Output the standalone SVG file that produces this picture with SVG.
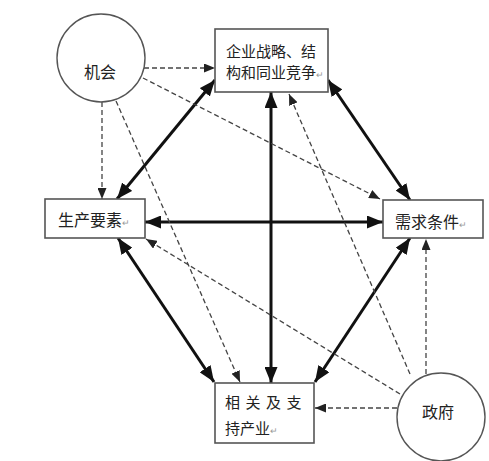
<svg xmlns="http://www.w3.org/2000/svg" width="489" height="461" viewBox="0 0 489 461">
<style>
.box{fill:#fff;stroke:#555;stroke-width:1.6}
.circ{fill:#fff;stroke:#555;stroke-width:1.4}
.t{font-family:"Noto Sans CJK SC","Noto Sans",sans-serif;fill:#222}
.pm{font-size:9px;fill:#999}
.thick{stroke:#111;stroke-width:3;fill:none;marker-start:url(#big);marker-end:url(#big)}
.dash{stroke:#444;stroke-width:1.3;stroke-dasharray:5 3;fill:none;marker-end:url(#small)}
</style>
<defs>
<marker id="big" viewBox="0 0 16 13" refX="16" refY="6.5" markerWidth="16" markerHeight="13" markerUnits="userSpaceOnUse" orient="auto-start-reverse"><path d="M0,0 L16,6.5 L0,13 z" fill="#111"/></marker>
<marker id="small" viewBox="0 0 11 9" refX="11" refY="4.5" markerWidth="11" markerHeight="9" markerUnits="userSpaceOnUse" orient="auto"><path d="M0,0 L11,4.5 L0,9 z" fill="#222"/></marker>
</defs>
<rect width="489" height="461" fill="#fff"/>
<g id="connectors">
<line class="thick" x1="117" y1="199" x2="215" y2="80"/>
<line class="thick" x1="328" y1="80" x2="410" y2="200"/>
<line class="thick" x1="271" y1="92" x2="271" y2="383"/>
<line class="thick" x1="145" y1="222" x2="383" y2="222"/>
<line class="thick" x1="118" y1="238" x2="214" y2="382"/>
<line class="thick" x1="410" y1="238" x2="315" y2="382"/>
<line class="dash" x1="144" y1="68" x2="215" y2="68"/>
<line class="dash" x1="102" y1="102" x2="102" y2="199"/>
<line class="dash" x1="143" y1="78" x2="380" y2="199"/>
<line class="dash" x1="116" y1="101" x2="240" y2="382"/>
<line class="dash" x1="397" y1="408" x2="315" y2="408"/>
<line class="dash" x1="426" y1="374" x2="426" y2="239"/>
<line class="dash" x1="400" y1="394" x2="146" y2="239"/>
<line class="dash" x1="410" y1="374" x2="289" y2="94"/>
</g>
<g id="jihui">
<circle class="circ" cx="101" cy="58" r="44"/>
<text class="t" x="84" y="78" font-size="16">机会</text>
</g>
<g id="zhengfu">
<circle class="circ" cx="441" cy="417" r="44"/>
<text class="t" x="422" y="418" font-size="16">政府</text>
</g>
<g id="qiye">
<rect class="box" x="215" y="29" width="113" height="63"/>
<text class="t" x="226" y="57" font-size="15">企业战略、结</text>
<text class="t" x="226" y="78" font-size="15">构和同业竞争<tspan class="pm">↵</tspan></text>
</g>
<g id="shengchan">
<rect class="box" x="45" y="199" width="100" height="39"/>
<text class="t" x="58" y="226" font-size="16">生产要素<tspan class="pm">↵</tspan></text>
</g>
<g id="xuqiu">
<rect class="box" x="383" y="200" width="100" height="38"/>
<text class="t" x="395" y="228" font-size="16">需求条件<tspan class="pm">↵</tspan></text>
</g>
<g id="xiangguan">
<rect class="box" x="215" y="383" width="99" height="60"/>
<text class="t" x="225" y="408" font-size="15" letter-spacing="5.5">相关及支</text>
<text class="t" x="225" y="434" font-size="15">持产业<tspan class="pm">↵</tspan></text>
</g>
</svg>
